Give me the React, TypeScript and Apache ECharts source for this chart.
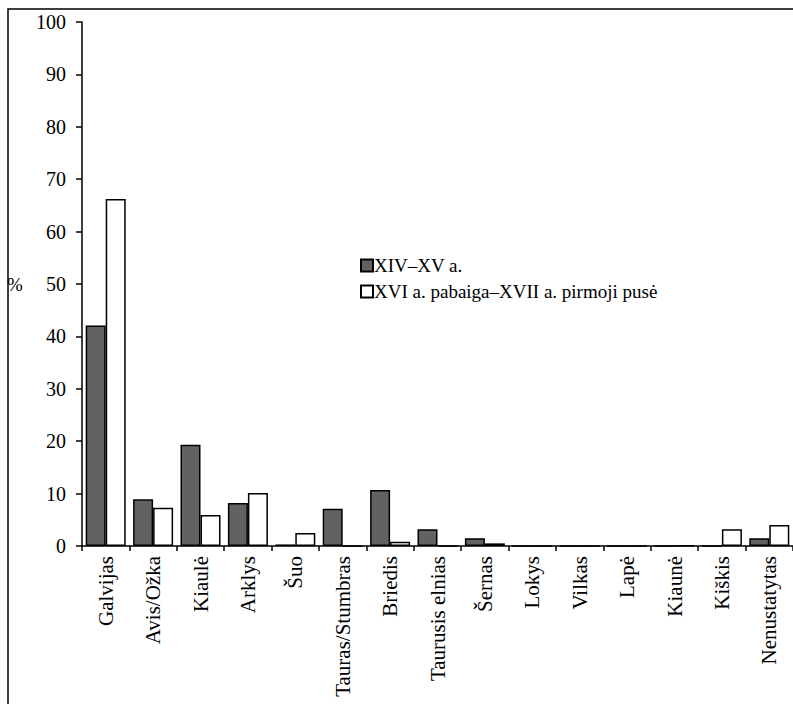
import React, { useEffect, useRef } from "react";
import * as echarts from "echarts";

const categories = [
  "Galvijas", "Avis/Ožka", "Kiaulė", "Arklys", "Šuo", "Tauras/Stumbras", "Briedis",
  "Taurusis elnias", "Šernas", "Lokys", "Vilkas", "Lapė", "Kiaunė", "Kiškis", "Nenustatytas",
];
const seriesNames = ["XIV–XV a.", "XVI a. pabaiga–XVII a. pirmoji pusė"];
const early = [42.1, 8.9, 19.3, 8.2, 0.3, 7.1, 10.7, 3.2, 1.5, 0, 0, 0, 0, 0, 1.5];
const late = [66.2, 7.3, 5.9, 10.1, 2.5, 0, 0.8, 0, 0.5, 0, 0, 0, 0.1, 3.2, 4.0];
const yTicks = { min: 0, max: 100, interval: 10 };

const FONT = "Liberation Serif";

export default function App() {
  const ref = useRef<HTMLDivElement>(null);
  useEffect(() => {
    const chart = echarts.init(ref.current!, undefined, { renderer: "svg" });
    chart.setOption({
      animation: false,
      backgroundColor: "#fff",
      textStyle: { fontFamily: FONT, color: "#000" },
      grid: { left: 82, top: 22, width: 716, height: 524, containLabel: false },
      legend: {
        orient: "vertical",
        left: 360,
        top: 256,
        padding: 0,
        itemWidth: 12,
        itemHeight: 12,
        itemGap: 7,
        icon: "rect",
        textStyle: { fontFamily: FONT, fontSize: 19, color: "#000", padding: [0, 0, 0, -4] },
        data: seriesNames,
      },
      xAxis: {
        type: "category",
        data: categories,
        axisLine: { lineStyle: { color: "#000", width: 1.5 } },
        axisTick: { show: true, length: 5, lineStyle: { color: "#000", width: 1.5 } },
        axisLabel: { rotate: 90, fontSize: 21, color: "#000", fontFamily: FONT, margin: 10, interval: 0 },
      },
      yAxis: {
        type: "value",
        min: yTicks.min,
        max: yTicks.max,
        interval: yTicks.interval,
        splitLine: { show: false },
        axisLine: { show: true, lineStyle: { color: "#000", width: 1.5 } },
        axisTick: { show: true, length: 6, lineStyle: { color: "#000", width: 1.5 } },
        axisLabel: { fontSize: 20, color: "#000", fontFamily: FONT, margin: 16 },
      },
      graphic: [
        {
          type: "rect",
          shape: { x: 8, y: 9, width: 820, height: 740 },
          style: { fill: "none", stroke: "#000", lineWidth: 1.5 },
          silent: true,
        },
        {
          type: "text",
          x: 7,
          y: 275,
          style: { text: "%", fontFamily: FONT, fontSize: 19, fill: "#000" },
        },
      ],
      series: [
        {
          name: seriesNames[0],
          type: "bar",
          data: early,
          barWidth: 20,
          barGap: "0%",
          itemStyle: { color: "#626262", borderColor: "#000", borderWidth: 1.5 },
        },
        {
          name: seriesNames[1],
          type: "bar",
          data: late,
          barWidth: 20,
          barGap: "0%",
          itemStyle: { color: "#fff", borderColor: "#000", borderWidth: 1.5 },
        },
      ],
    });
    return () => chart.dispose();
  }, []);
  return <div ref={ref} style={{ position: "absolute", left: 0, top: 0, width: 793, height: 704 }} />;
}
